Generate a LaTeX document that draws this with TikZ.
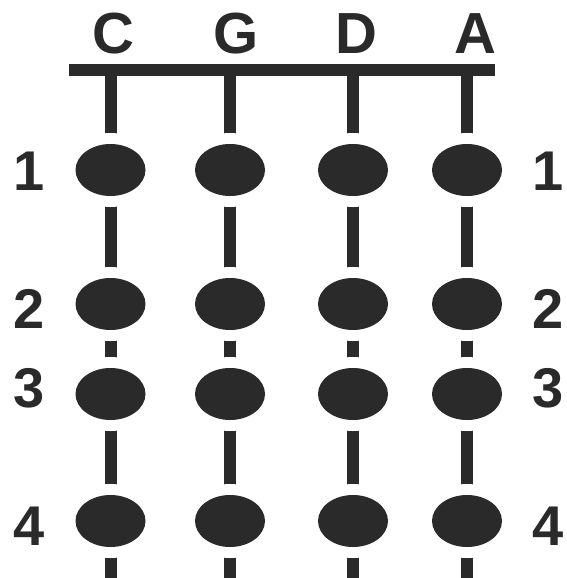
\documentclass[tikz,border=0pt]{standalone}
\usepackage{fontspec}
\setmainfont{Liberation Sans}
\usetikzlibrary{shapes.geometric}
\definecolor{fbink}{HTML}{2A2A2A}

\begin{document}
\begin{tikzpicture}[x=1pt, y=-1pt,
    fingerdot/.style={ellipse, fill=fbink, inner sep=0pt, minimum width=70pt, minimum height=52pt, preaction={draw=white, line width=22pt}},
    stringname/.style={font=\fontsize{58}{58}\selectfont\bfseries, text=fbink, inner sep=0pt},
    rownum/.style={font=\fontsize{56}{56}\selectfont\bfseries, text=fbink, inner sep=0pt},
]
\useasboundingbox (0,0) rectangle (566,578);

% nut
\coordinate (nutL) at (69,70);
\coordinate (nutR) at (495,70);
\draw[fbink, line width=11pt] (nutL) -- (nutR);

% strings with their finger dots
\foreach \s/\x/\lx in {C/110.5/113, G/230/236, D/353/356, A/467/475} {
  \coordinate (\s top) at (\x,70);
  \coordinate (\s end) at (\x,578);
  \draw[fbink, line width=12pt] (\s top) -- (\s end);
  \node[stringname] (\s name) at (\lx,34) {\s};
  \foreach \r/\y in {1/170, 2/304, 3/394, 4/521}
    \node[fingerdot] (\s\r) at (\x,\y) {};
}

% finger numbers
\foreach \r/\yl in {1/171, 2/309, 3/388, 4/526} {
  \node[rownum] (left\r) at (29,\yl) {\r};
  \node[rownum] (right\r) at (548,\yl) {\r};
}
\end{tikzpicture}
\end{document}
